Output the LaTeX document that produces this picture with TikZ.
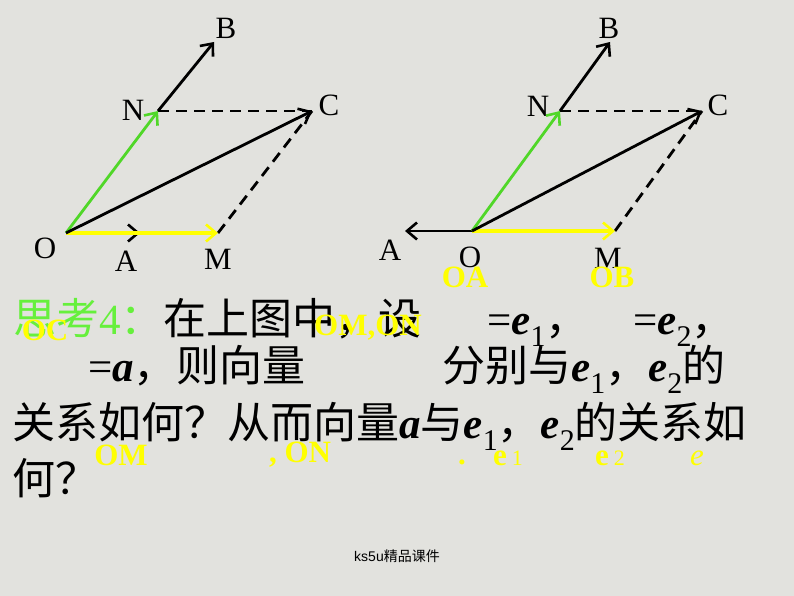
\documentclass[tikz,border=0pt]{standalone}
\usepackage{fontspec}
\setmainfont{Liberation Serif}
\newfontfamily\cjk{Noto Sans CJK SC}
\newfontfamily\footfont{Liberation Sans}
\usetikzlibrary{arrows.meta}
\definecolor{bgpaper}{RGB}{226,226,222}
\definecolor{thinkgreen}{RGB}{102,240,60}
\definecolor{vecgreen}{RGB}{80,215,40}
\definecolor{vecyellow}{RGB}{255,255,0}
\newcommand{\vsub}[1]{\raisebox{-0.3em}{\fontsize{30}{30}\selectfont #1}}
\newcommand{\bv}[1]{\textbf{\textit{#1}}}
\begin{document}
\begin{tikzpicture}[x=1pt, y=-1pt]

        \tikzstyle{vec} = [line width=2.8pt, -{Straight Barb[length=10pt, width=17pt, line width=2.6pt]}]
        \tikzstyle{aid} = [line width=2.8pt, dash pattern=on 11pt off 7pt]
        \tikzstyle{pointlab} = [inner sep=0pt, font=\fontsize{31}{31}\selectfont]
        \tikzstyle{txt} = [inner sep=0pt, anchor=base west, font=\fontsize{43}{50}\selectfont]
        \tikzstyle{garble} = [inner sep=0pt, text=vecyellow, font=\fontsize{31}{31}\selectfont\bfseries]

        \fill[bgpaper] (0,0) rectangle (794,596);
        \useasboundingbox (0,0) rectangle (794,596);

        % left figure
        \coordinate (o1) at (66,233);
        \coordinate (a1) at (140,233);
        \coordinate (m1) at (218,233);
        \coordinate (n1) at (158,111);
        \coordinate (b1) at (214,42);
        \coordinate (c1) at (312,111);

        \draw [aid] (n1) -- (c1);
        \draw [aid] (m1) -- (c1);
        \draw [vec] (o1) -- (a1);
        \draw [vec, vecyellow, line width=3.4pt] (o1) -- (m1);
        \draw [vec, vecgreen] (o1) -- (n1);
        \draw [vec] (n1) -- (b1);
        \draw [vec] (o1) -- (c1);

        \node (o1lab) [pointlab] at (45,248) {O};
        \node (a1lab) [pointlab] at (126,261) {A};
        \node (m1lab) [pointlab] at (218,259) {M};
        \node (n1lab) [pointlab] at (133,110) {N};
        \node (b1lab) [pointlab] at (226,28) {B};
        \node (c1lab) [pointlab] at (329,105) {C};

        % right figure
        \coordinate (o2) at (472,231);
        \coordinate (a2) at (405,231);
        \coordinate (m2) at (615,231);
        \coordinate (n2) at (560,111);
        \coordinate (b2) at (610,42);
        \coordinate (c2) at (702,111);

        \draw [aid] (n2) -- (c2);
        \draw [aid] (m2) -- (c2);
        \draw [vec] (o2) -- (a2);
        \draw [vec, vecyellow, line width=3.4pt] (o2) -- (m2);
        \draw [vec, vecgreen] (o2) -- (n2);
        \draw [vec] (n2) -- (b2);
        \draw [vec] (o2) -- (c2);

        \node (a2lab) [pointlab] at (390,250) {A};
        \node (o2lab) [pointlab] at (470,257) {O};
        \node (m2lab) [pointlab] at (608,258) {M};
        \node (n2lab) [pointlab] at (538,106) {N};
        \node (b2lab) [pointlab] at (609,28) {B};
        \node (c2lab) [pointlab] at (718,105) {C};

        % question text
        \node (line1) [txt] at (13,334) {{\color{thinkgreen}{\cjk 思考}4{\cjk ：}}{\cjk 在上图中，设}};
        \node (e1def) [txt] at (487,334) {=\bv{e}\vsub{1}{\cjk ，}};
        \node (e2def) [txt] at (633,334) {=\bv{e}\vsub{2}{\cjk ，}};
        \node (line2) [txt] at (88,381) {=\bv{a}{\cjk ，则向量}};
        \node (line2b) [txt] at (442,381) {{\cjk 分别与}\bv{e}\vsub{1}{\cjk ，}\bv{e}\vsub{2}{\cjk 的}};
        \node (line3) [txt] at (12,438) {{\cjk 关系如何？从而向量}\bv{a}{\cjk 与}\bv{e}\vsub{1}{\cjk ，}\bv{e}\vsub{2}{\cjk 的关系如}};
        \node (line4) [txt] at (12,494) {\cjk 何？};

        % broken formula leftovers
        \node (gOA) [garble] at (465,277) {OA};
        \node (gOB) [garble] at (612,277) {OB};
        \node (gOC) [garble] at (45,330) {OC};
        \node (gOMON) [garble] at (368,328) {OM,ON};
        \node (gOM) [garble] at (121,455) {OM};
        \node (gON) [garble] at (300,455) {, ON};
        \node (gdot) [garble] at (462,462) {.};
        \node (ge1) [garble] at (508,458) {e\,\mdseries\fontsize{22}{22}\selectfont 1};
        \node (ge2) [garble] at (610,458) {e\,\mdseries\fontsize{22}{22}\selectfont 2};
        \node (ge) [garble] at (697,458) {\mdseries\itshape e};

        \node (footer) at (397,556) {\footfont\fontsize{14}{14}\selectfont ks5u{\cjk 精品课件}};

    \end{tikzpicture}
\end{document}
